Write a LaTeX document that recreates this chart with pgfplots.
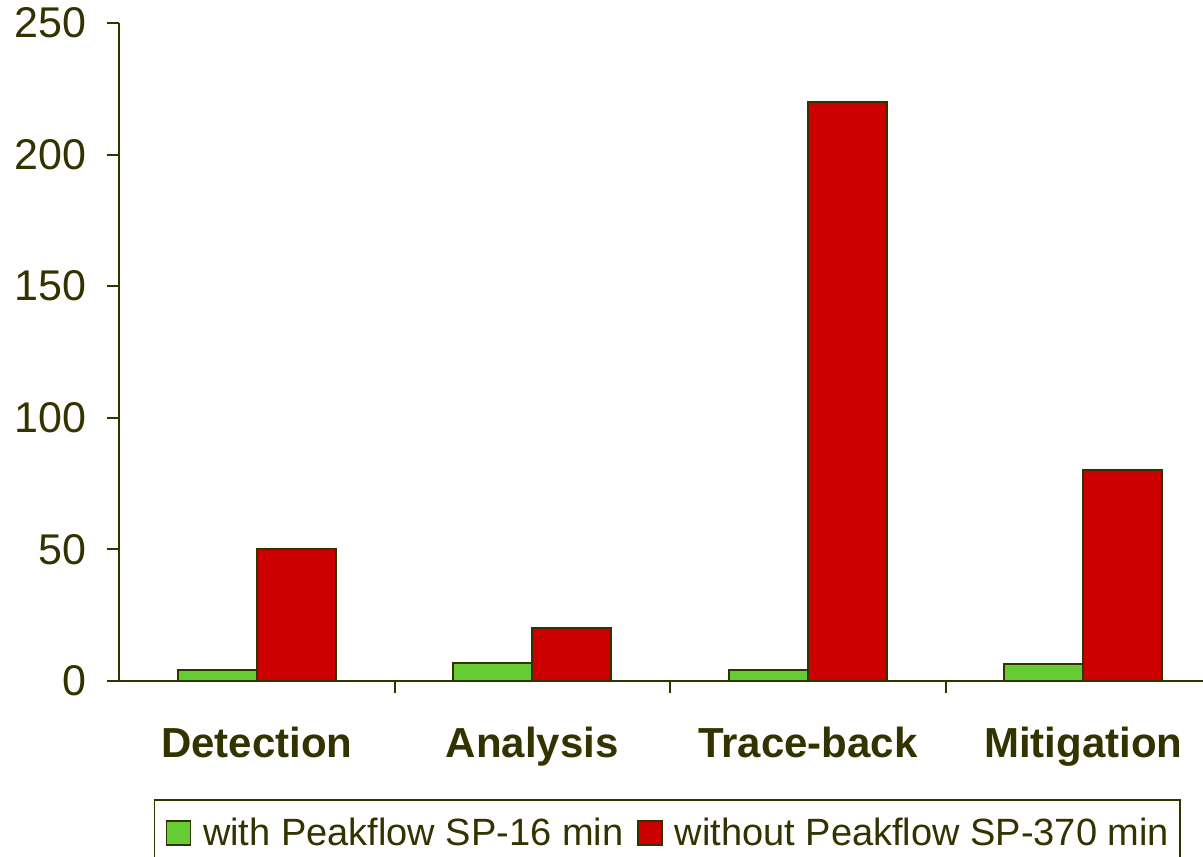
\documentclass[border=0pt]{standalone}
\usepackage{fontspec}
\setmainfont{Liberation Sans}
\usepackage{pgfplots}
\pgfplotsset{compat=1.18}
\definecolor{olive}{HTML}{333300}
\definecolor{bargreen}{HTML}{66CC33}
\definecolor{barred}{HTML}{CC0000}
\begin{document}
\begin{tikzpicture}
\begin{axis}[
  name=ax,
  scale only axis,
  width=551pt, height=329pt,
  xmin=-0.5, xmax=3.5, ymin=0, ymax=250,
  axis x line=bottom, axis y line=left,
  axis line style={-, color=olive, line width=1pt},
  ytick={0,50,100,150,200,250},
  xtick={0.5,1.5,2.5,3.5},
  xticklabels={},
  extra x ticks={0,1,2,3},
  extra x tick labels={Detection,Analysis,Trace-back,Mitigation},
  extra x tick style={major tick length=0pt,
    xticklabel style={font=\fontsize{21}{24}\selectfont\bfseries, color=olive, anchor=base, inner sep=0pt, yshift=-38pt}},
  tick align=outside,
  major tick length=6pt,
  tick style={color=olive, line width=1pt},
  /pgf/number format/assume math mode=true,
  yticklabel style={font=\fontsize{21.5}{24}\selectfont, color=olive, anchor=east, inner sep=0pt, xshift=-10pt},
  ybar=0pt,
  bar width=0.287,
  legend columns=2,
  legend style={at={(0.9637,-0.1793)}, anchor=north east, draw=olive, line width=0.9pt,
    font=\fontsize{19}{22}\selectfont, text=olive, inner xsep=5.5pt, inner ysep=9pt,
    /tikz/column 1/.style={column sep=6pt},
    /tikz/column 2/.style={column sep=7pt},
    /tikz/column 3/.style={column sep=6pt},
    /tikz/column 4/.style={column sep=0pt},
    nodes={inner sep=0pt, anchor=west}},
  legend image code/.code={\draw[#1, line width=0.75pt] (0pt,-6pt) rectangle (12pt,6pt);},
]
\addplot[fill=bargreen, draw=olive, line width=1pt] coordinates {(0,4) (1,7) (2,4) (3,6.3)};
\addplot[fill=barred, draw=olive, line width=1pt] coordinates {(0,50) (1,20) (2,220) (3,80)};
\legend{with Peakflow SP-16 min, without Peakflow SP-370 min}
\coordinate (O) at (rel axis cs:0,0);
\end{axis}
\pgfresetboundingbox
\useasboundingbox ([shift={(-59.5pt,-87.5pt)}]O) rectangle ([shift={(542pt,340.5pt)}]O);
\end{tikzpicture}
\end{document}
